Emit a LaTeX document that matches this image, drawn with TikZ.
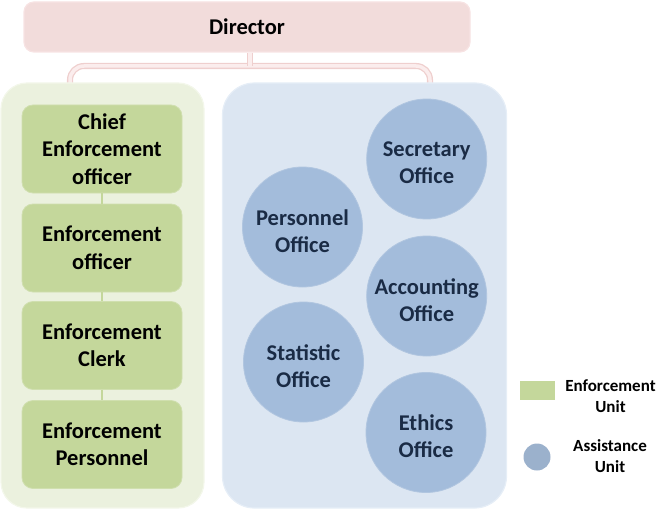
\documentclass[tikz,border=0pt]{standalone}
\usepackage{fontspec}
\setmainfont{Carlito}
\definecolor{pinkfill}{HTML}{F2DCDB}
\definecolor{pinkedge}{HTML}{F7E3E3}
\definecolor{connedge}{HTML}{EFCFCE}
\definecolor{connfill}{HTML}{FBEDED}
\definecolor{greenbg}{HTML}{EBF1DE}
\definecolor{greenbgedge}{HTML}{F3F7EA}
\definecolor{greenbox}{HTML}{C4D79B}
\definecolor{bluebg}{HTML}{DCE6F2}
\definecolor{bluebgedge}{HTML}{E6EEF7}
\definecolor{bluecirc}{HTML}{A3BCDB}
\definecolor{navytext}{HTML}{1A2B45}
\tikzset{
  container/.style={draw, line width=1.2pt, rounded corners=26pt, inner sep=0pt},
  greenstep/.style={fill=greenbox, draw=greenbox!80!white, line width=0.8pt, rounded corners=11pt,
    minimum width=160pt, minimum height=88pt, inner sep=0pt, align=center,
    font=\bfseries\fontsize{22.5}{27.5}\selectfont, text=black},
  officetext/.style={align=center, inner sep=0pt, yshift=-4pt,
    font=\bfseries\fontsize{22.5}{27}\selectfont, text=navytext},
  office/.style={circle, fill=bluecirc, draw=bluecirc!85!white, line width=0.8pt, minimum size=120pt,
    inner sep=0pt, label={[officetext]center:{#1}}},
  steplink/.style={draw=greenbox, line width=2pt},
  conn/.style={draw=connedge, double=connfill, double distance=3.5pt, line width=1.3pt, rounded corners=14pt},
  legendtext/.style={align=center, font=\bfseries\fontsize{17}{21}\selectfont, text=black}
}
\begin{document}
\begin{tikzpicture}[x=1pt,y=-1pt]
\useasboundingbox (0,0) rectangle (670,511);
% director
\node[draw=pinkedge, fill=pinkfill, line width=1.2pt, rounded corners=10pt, minimum width=446pt, minimum height=50pt,
  inner sep=0pt, font=\bfseries\fontsize{22.5}{27}\selectfont] (director) at (247,27) {Director};
% connector
\coordinate (jl) at (70,84);
\coordinate (jr) at (430,84);
\coordinate (jm) at (250,66);
\draw[conn] (jl) |- (jm) -| (jr);
\draw[conn] (director.south -| jm) -- (jm);
% containers
\node[container, draw=greenbgedge, fill=greenbg, minimum width=203pt, minimum height=425pt] (leftc) at (102.5,295.5) {};
\node[container, draw=bluebgedge, fill=bluebg, minimum width=284pt, minimum height=425pt, rounded corners=32pt] (rightc) at (364.5,295.5) {};
% enforcement unit chain
\node[greenstep] (chief) at (102,149) {Chief\\Enforcement\\officer};
\node[greenstep] (officer) at (102,248) {Enforcement\\officer};
\node[greenstep] (clerk) at (102,345.5) {Enforcement\\Clerk};
\node[greenstep] (personnel) at (102,444.5) {Enforcement\\Personnel};
\draw[steplink] (chief) -- (officer);
\draw[steplink] (officer) -- (clerk);
\draw[steplink] (clerk) -- (personnel);
% offices
\node[office={Secretary\\Office}] (secretary) at (426.7,159) {};
\node[office={Personnel\\Office}] (personneloff) at (302.5,227) {};
\node[office={Accounting\\Office}] (accounting) at (426.7,296) {};
\node[office={Statistic\\Office}] (statistic) at (303.5,362) {};
\node[office={Ethics\\Office}] (ethics) at (426,432.5) {};
% legend
\node[fill=greenbox, minimum width=35pt, minimum height=19pt, inner sep=0pt] (legsq) at (537.5,390.5) {};
\node[legendtext] (legsqtext) at (610.5,396) {Enforcement\\Unit};
\node[circle, fill=bluecirc!92!black!95, minimum size=27pt, inner sep=0pt] (legcirc) at (537,457) {};
\node[legendtext] (legcirctext) at (610,456) {Assistance\\Unit};
\end{tikzpicture}
\end{document}
